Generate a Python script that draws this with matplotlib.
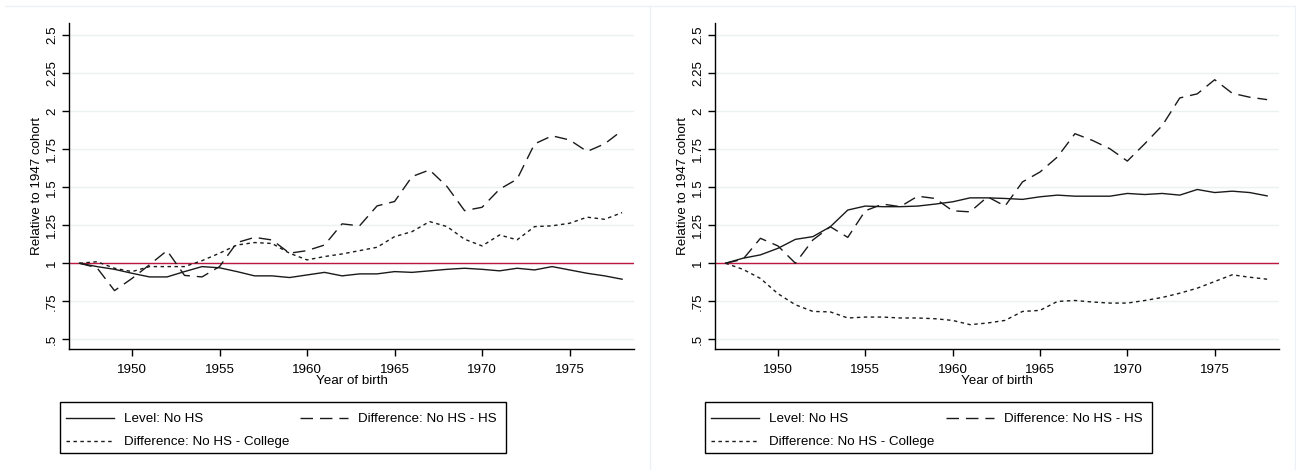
import matplotlib
matplotlib.use("Agg")
import matplotlib.pyplot as plt
from matplotlib.lines import Line2D
from matplotlib.patches import Rectangle

plt.rcParams['font.family'] = ['Liberation Sans', 'DejaVu Sans']

years = list(range(1947, 1979))

# left panel
left_level = [1.0, 0.978, 0.96, 0.934, 0.91, 0.91, 0.945, 0.978, 0.97, 0.945,
              0.917, 0.917, 0.906, 0.923, 0.94, 0.917, 0.93, 0.93, 0.945, 0.94,
              0.95, 0.96, 0.967, 0.96, 0.95, 0.967, 0.956, 0.978, 0.956, 0.934,
              0.917, 0.895]
left_diff_hs = [1.0, 0.97, 0.82, 0.90, 0.99, 1.083, 0.92, 0.91, 0.978, 1.136,
                1.17, 1.153, 1.066, 1.083, 1.12, 1.259, 1.246, 1.377, 1.406, 1.57,
                1.614, 1.504, 1.346, 1.368, 1.487, 1.553, 1.785, 1.838, 1.811, 1.735,
                1.785, 1.873]
left_diff_col = [1.0, 1.01, 0.967, 0.945, 0.978, 0.978, 0.978, 1.017, 1.066, 1.12,
                 1.136, 1.13, 1.066, 1.022, 1.044, 1.061, 1.083, 1.105, 1.175, 1.208,
                 1.274, 1.241, 1.158, 1.114, 1.186, 1.154, 1.241, 1.246, 1.263, 1.303,
                 1.289, 1.333]

# right panel
right_level = [1.0, 1.033, 1.055, 1.098, 1.157, 1.175, 1.24, 1.35, 1.376, 1.372,
               1.372, 1.376, 1.389, 1.404, 1.43, 1.43, 1.426, 1.42, 1.437, 1.448,
               1.441, 1.441, 1.441, 1.459, 1.452, 1.459, 1.448, 1.485, 1.465, 1.474,
               1.465, 1.443]
right_diff_hs = [1.0, 1.026, 1.164, 1.114, 1.0, 1.153, 1.24, 1.17, 1.345, 1.389,
                 1.372, 1.441, 1.426, 1.345, 1.338, 1.437, 1.376, 1.535, 1.6, 1.699,
                 1.852, 1.808, 1.753, 1.672, 1.786, 1.906, 2.087, 2.114, 2.207, 2.118,
                 2.092, 2.076]
right_diff_col = [1.0, 0.96, 0.90, 0.80, 0.727, 0.683, 0.68, 0.64, 0.646, 0.646,
                  0.64, 0.64, 0.635, 0.624, 0.596, 0.607, 0.624, 0.683, 0.69, 0.749,
                  0.755, 0.745, 0.738, 0.738, 0.755, 0.775, 0.803, 0.836, 0.88, 0.924,
                  0.908, 0.895]

yticks = [0.5, 0.75, 1, 1.25, 1.5, 1.75, 2, 2.25, 2.5]
ytick_labels = ['.5', '.75', '1', '1.25', '1.5', '1.75', '2', '2.25', '2.5']
xticks = [1950, 1955, 1960, 1965, 1970, 1975]

labels = ['Level: No HS', 'Difference: No HS - HS', 'Difference: No HS - College']

W, H = 1296, 470
fig = plt.figure(figsize=(W / 100, H / 100), dpi=100)

grid_col = '#eaf2f3'
line_col = '#1a1a1a'
lw = 1.0
fs = 9.6
dash_style = (0, (9, 5))
dot_style = (0, (2.5, 2.5))


def px(x0, y0, x1, y1):
    return [x0 / W, 1 - y1 / H, (x1 - x0) / W, (y1 - y0) / H]


panels = [
    (px(69, 23, 634, 349), left_level, left_diff_hs, left_diff_col, (60, 402, 506, 453)),
    (px(715, 23, 1279, 349), right_level, right_diff_hs, right_diff_col, (705, 402, 1152, 453)),
]

for rect, level, dhs, dcol, box in panels:
    ax = fig.add_axes(rect)
    ax.set_xlim(1946.4, 1978.68)
    ax.set_ylim(0.436, 2.58)
    for y in yticks:
        ax.axhline(y, color=grid_col, lw=1.0, zorder=0)
    ax.axhline(1, color='#c0163f', lw=1.0, zorder=1)
    h1, = ax.plot(years, level, color=line_col, lw=lw, zorder=3)
    h2, = ax.plot(years, dhs, color=line_col, lw=lw, linestyle=dash_style, zorder=3)
    h3, = ax.plot(years, dcol, color=line_col, lw=lw, linestyle=dot_style, zorder=3)

    ax.spines['top'].set_visible(False)
    ax.spines['right'].set_visible(False)
    ax.spines['left'].set_linewidth(1.0)
    ax.spines['bottom'].set_linewidth(1.0)
    ax.set_yticks(yticks)
    ax.set_yticklabels(ytick_labels, rotation=90, va='center')
    ax.set_xticks(xticks)
    ax.tick_params(direction='out', length=5, width=1, labelsize=fs)
    ax.tick_params(axis='y', pad=3)
    ax.tick_params(axis='x', pad=6)
    ax.set_ylabel('Relative to 1947 cohort', fontsize=fs, labelpad=2)
    ax.set_xlabel('Year of birth', fontsize=fs, labelpad=-1)

    # legend box drawn separately so the entries can sit low inside it
    bx0, by0, bx1, by1 = box
    fig.add_artist(Rectangle((bx0 / W, 1 - by1 / H), (bx1 - bx0) / W, (by1 - by0) / H,
                             fill=False, edgecolor='black', lw=1.0))
    fig.legend([h1, h3, h2], [labels[0], labels[2], labels[1]], ncol=2,
               loc='upper left', mode='expand',
               bbox_to_anchor=((bx0 + 6) / W, 1 - (by0 + 11) / H, (bx1 - bx0 - 15) / W, 0),
               fontsize=fs, frameon=False, handlelength=3.6, handletextpad=0.75,
               labelspacing=0.81, borderpad=0, borderaxespad=0)

# faint outline of the combined graph region
border = '#edf1f6'
fig.add_artist(Line2D([5 / W, 1295 / W], [1 - 6 / H, 1 - 6 / H], color=border, lw=1.0))
fig.add_artist(Line2D([650 / W, 650 / W], [0, 1 - 6 / H], color=border, lw=1.0))
fig.add_artist(Line2D([1295 / W, 1295 / W], [0, 1 - 6 / H], color=border, lw=1.0))

fig.savefig('out.png', dpi=100, facecolor='white')
